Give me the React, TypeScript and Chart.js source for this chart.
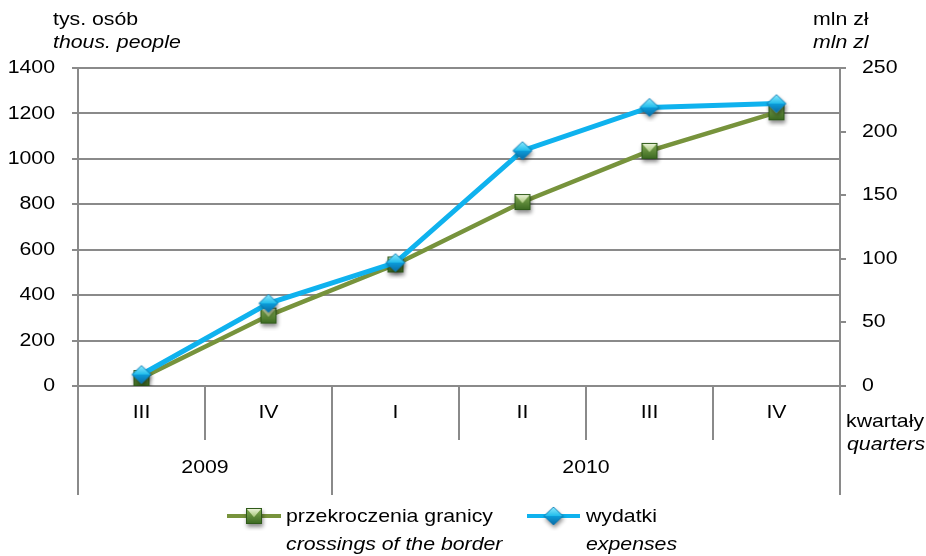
import React, { useEffect, useRef } from 'react';
import { Chart, registerables } from 'chart.js';

Chart.register(...registerables);

// ---- data ----
const quarters = ['III', 'IV', 'I', 'II', 'III', 'IV'];
const years = ['2009', '2010'];
const yearSpans = [2, 4];
const crossings = [35, 310, 535, 810, 1035, 1205]; // tys. osób
const expenses = [9, 65, 97, 185, 219, 222]; // mln zł
const leftRange = [0, 1400, 200];
const rightRange = [0, 250, 50];
const crossingsName = ['przekroczenia granicy', 'crossings of the border'];
const expensesName = ['wydatki', 'expenses'];
const leftUnit = ['tys. osób', 'thous. people'];
const rightUnit = ['mln zł', 'mln zl'];
const xUnit = ['kwartały', 'quarters'];

const GREEN = '#77933C';
const BLUE = '#0FB2EE';
const GRID = '#8a8a8a';
const FONT = "'Liberation Sans', Arial, sans-serif";
const SX = 1.15;

function txt(ctx: CanvasRenderingContext2D, s: string, x: number, y: number, align: CanvasTextAlign, italic = false) {
  ctx.save();
  ctx.font = `${italic ? 'italic ' : ''}18.5px ${FONT}`;
  ctx.fillStyle = '#000';
  ctx.textBaseline = 'middle';
  ctx.textAlign = align;
  ctx.translate(x, y);
  ctx.scale(SX, 1);
  ctx.fillText(s, 0, 0);
  ctx.restore();
}

function makeSquare(): HTMLCanvasElement {
  const c = document.createElement('canvas');
  c.width = 30; c.height = 30;
  const g = c.getContext('2d')!;
  const s = 16, x0 = 15 - s / 2, y0 = 15 - s / 2;
  g.save();
  g.shadowColor = 'rgba(0,0,0,0.45)';
  g.shadowBlur = 4; g.shadowOffsetX = 1; g.shadowOffsetY = 3;
  const gr = g.createLinearGradient(0, y0, 0, y0 + s);
  gr.addColorStop(0, '#86ad55');
  gr.addColorStop(1, '#3a6820');
  g.fillStyle = gr;
  g.fillRect(x0, y0, s, s);
  g.restore();
  const gv = g.createLinearGradient(0, y0, 0, y0 + s * 0.55);
  gv.addColorStop(0, '#f2f8e2');
  gv.addColorStop(1, '#a6c579');
  g.fillStyle = gv;
  g.beginPath();
  g.moveTo(x0 + 1, y0 + 1);
  g.lineTo(x0 + s - 1, y0 + 1);
  g.lineTo(15, y0 + s * 0.58);
  g.closePath();
  g.fill();
  g.strokeStyle = '#2f5a1a';
  g.lineWidth = 1;
  g.strokeRect(x0 + 0.5, y0 + 0.5, s - 1, s - 1);
  return c;
}

function makeDiamond(): HTMLCanvasElement {
  const c = document.createElement('canvas');
  c.width = 30; c.height = 30;
  const g = c.getContext('2d')!;
  const cx = 15, cy = 15, hw = 9.5, hh = 9;
  g.save();
  g.shadowColor = 'rgba(0,0,0,0.45)';
  g.shadowBlur = 4; g.shadowOffsetX = 1; g.shadowOffsetY = 3;
  g.fillStyle = '#0a86c4';
  g.beginPath();
  g.moveTo(cx - hw, cy); g.lineTo(cx, cy - hh); g.lineTo(cx + hw, cy); g.lineTo(cx, cy + hh);
  g.closePath(); g.fill();
  g.restore();
  const gt = g.createLinearGradient(0, cy - hh, 0, cy);
  gt.addColorStop(0, '#8feafc');
  gt.addColorStop(1, '#1fbcec');
  g.fillStyle = gt;
  g.beginPath();
  g.moveTo(cx - hw, cy); g.lineTo(cx, cy - hh); g.lineTo(cx + hw, cy); g.closePath(); g.fill();
  const gb = g.createLinearGradient(0, cy, 0, cy + hh);
  gb.addColorStop(0, '#0c9ddb');
  gb.addColorStop(1, '#0a6aa3');
  g.fillStyle = gb;
  g.beginPath();
  g.moveTo(cx - hw, cy); g.lineTo(cx + hw, cy); g.lineTo(cx, cy + hh); g.closePath(); g.fill();
  g.strokeStyle = '#0b78b2';
  g.lineWidth = 0.8;
  g.beginPath();
  g.moveTo(cx - hw, cy); g.lineTo(cx, cy - hh); g.lineTo(cx + hw, cy); g.lineTo(cx, cy + hh);
  g.closePath(); g.stroke();
  return c;
}

export default function App() {
  const ref = useRef<HTMLCanvasElement>(null);

  useEffect(() => {
    if (!ref.current) return;
    const square = makeSquare();
    const diamond = makeDiamond();

    const decor = {
      id: 'decor',
      afterDraw(chart: any) {
        const ctx: CanvasRenderingContext2D = chart.ctx;
        const { left, right, bottom } = chart.chartArea;
        const xs = chart.scales.x;
        const yl = chart.scales.y;
        const yr = chart.scales.y1;

        // y tick labels
        yl.ticks.forEach((t: any) => txt(ctx, String(t.value), 55, yl.getPixelForValue(t.value), 'right'));
        yr.ticks.forEach((t: any) => txt(ctx, String(t.value), 862, yr.getPixelForValue(t.value), 'left'));

        // category dividers
        const yearBounds = new Set<number>();
        let acc = 0;
        yearBounds.add(0);
        yearSpans.forEach((s) => { acc += s; yearBounds.add(acc); });
        ctx.save();
        ctx.strokeStyle = GRID;
        ctx.lineWidth = 2;
        for (let i = 0; i <= quarters.length; i++) {
          let x: number;
          if (i === 0) x = left;
          else if (i === quarters.length) x = right;
          else x = (xs.getPixelForValue(i - 1) + xs.getPixelForValue(i)) / 2;
          x = Math.round(x);
          const long = yearBounds.has(i);
          ctx.beginPath();
          ctx.moveTo(x, bottom);
          ctx.lineTo(x, bottom + (long ? 109 : 54));
          ctx.stroke();
        }
        ctx.restore();

        // quarter labels
        quarters.forEach((q, i) => txt(ctx, q, xs.getPixelForValue(i), bottom + 27, 'center'));
        // year labels
        let start = 0;
        years.forEach((yv, k) => {
          const a = xs.getPixelForValue(start);
          const b = xs.getPixelForValue(start + yearSpans[k] - 1);
          txt(ctx, yv, (a + b) / 2, bottom + 82, 'center');
          start += yearSpans[k];
        });

        // unit labels
        txt(ctx, leftUnit[0], 53, 20, 'left');
        txt(ctx, leftUnit[1], 53, 43, 'left', true);
        txt(ctx, rightUnit[0], 813, 20, 'left');
        txt(ctx, rightUnit[1], 813, 43, 'left', true);
        txt(ctx, xUnit[0], 846, 422, 'left');
        txt(ctx, xUnit[1], 847, 445, 'left', true);

        // legend
        const drawLegend = (x0: number, x1: number, color: string, img: HTMLCanvasElement, names: string[], tx: number) => {
          ctx.save();
          ctx.strokeStyle = color;
          ctx.lineWidth = 4;
          ctx.beginPath();
          ctx.moveTo(x0, 516);
          ctx.lineTo(x1, 516);
          ctx.stroke();
          ctx.restore();
          const mx = (x0 + x1) / 2;
          ctx.drawImage(img, mx - img.width / 2, 516 - img.height / 2);
          txt(ctx, names[0], tx, 517, 'left');
          txt(ctx, names[1], tx, 545, 'left', true);
        };
        drawLegend(227, 281, GREEN, square, crossingsName, 286);
        drawLegend(527, 580, BLUE, diamond, expensesName, 586);
      },
    };

    const chart = new Chart(ref.current, {
      type: 'line',
      data: {
        labels: quarters,
        datasets: [
          {
            label: crossingsName[0],
            data: crossings,
            yAxisID: 'y',
            borderColor: GREEN,
            backgroundColor: GREEN,
            borderWidth: 4.5,
            pointStyle: square as any,
            pointRadius: 9,
            tension: 0,
            order: 2,
          },
          {
            label: expensesName[0],
            data: expenses,
            yAxisID: 'y1',
            borderColor: BLUE,
            backgroundColor: BLUE,
            borderWidth: 5,
            pointStyle: diamond as any,
            pointRadius: 9,
            tension: 0,
            order: 1,
          },
        ],
      },
      options: {
        responsive: false,
        animation: false,
        layout: { padding: { top: 68, bottom: 60, left: 0, right: 0 } },
        plugins: { legend: { display: false }, tooltip: { enabled: false } },
        scales: {
          x: {
            type: 'category',
            offset: true,
            grid: { display: false },
            border: { display: false },
            ticks: { display: false },
            afterFit: (s: any) => { s.height = 110; },
          },
          y: {
            position: 'left',
            min: leftRange[0],
            max: leftRange[1],
            ticks: { stepSize: leftRange[2], display: false },
            grid: { color: GRID, lineWidth: 2, drawTicks: true, tickLength: 6 },
            border: { display: true, color: GRID, width: 2 },
            afterFit: (s: any) => { s.width = 78; },
          },
          y1: {
            position: 'right',
            min: rightRange[0],
            max: rightRange[1],
            ticks: { stepSize: rightRange[2], display: false },
            grid: { drawOnChartArea: false, color: GRID, lineWidth: 2, drawTicks: true, tickLength: 6 },
            border: { display: true, color: GRID, width: 2 },
            afterFit: (s: any) => { s.width = 86; },
          },
        },
      },
      plugins: [decor],
    });
    return () => chart.destroy();
  }, []);

  return (
    <div style={{ position: 'fixed', left: 0, top: 0, width: 926, height: 556, background: '#fff' }}>
      <canvas ref={ref} width={926} height={556} style={{ display: 'block' }} />
    </div>
  );
}
